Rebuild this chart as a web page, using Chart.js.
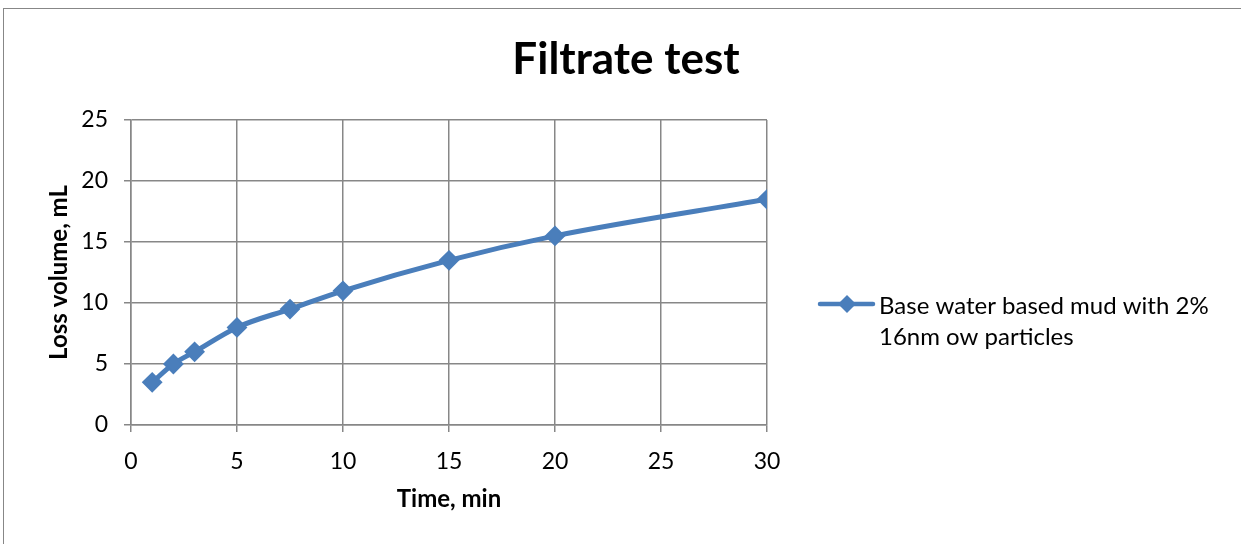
<!DOCTYPE html>
<html>
<head>
<meta charset="utf-8">
<script src="https://cdn.jsdelivr.net/npm/chart.js@4.4.1/dist/chart.umd.min.js"></script>
<style>
  html, body { margin: 0; padding: 0; background: #fff; }
  #wrap { position: relative; width: 1241px; height: 544px; overflow: hidden; }
  canvas { display: block; }
</style>
</head>
<body>
<div id="wrap"><canvas id="grafica" width="1241" height="544"></canvas></div>
<script>
// datos
const tiempos = [1, 2, 3, 5, 7.5, 10, 15, 20, 30];
const volumenes = [3.5, 5, 6, 8, 9.5, 11, 13.5, 15.5, 18.5];
const etiquetaSerie = ["Base water based mud with 2%", "16nm ow particles"];
const titulo = "Filtrate test";
const tituloX = "Time, min";
const tituloY = "Loss volume, mL";

const fuente = "Lato, 'Liberation Sans', sans-serif";
const azul = "#4a7ebb";
const gris = "#878787";

// marco, titulo y leyenda dibujados a mano
const extras = {
    id: "extras",
    afterDraw(chart) {
        const ctx = chart.ctx;
        ctx.save();

        // marco exterior
        ctx.strokeStyle = gris;
        ctx.lineWidth = 1;
        ctx.strokeRect(3.5, 8.5, 1300, 600);

        // titulo
        ctx.fillStyle = "#000";
        ctx.font = "bold 44px " + fuente;
        ctx.textAlign = "center";
        ctx.textBaseline = "middle";
        ctx.fillText(titulo, 626, 60);

        // leyenda
        const y = 304;
        ctx.strokeStyle = azul;
        ctx.lineWidth = 4.5;
        ctx.lineCap = "round";
        ctx.beginPath();
        ctx.moveTo(820, y);
        ctx.lineTo(873, y);
        ctx.stroke();
        ctx.fillStyle = azul;
        ctx.beginPath();
        ctx.moveTo(847 - 9, y);
        ctx.lineTo(847, y - 9);
        ctx.lineTo(847 + 9, y);
        ctx.lineTo(847, y + 9);
        ctx.closePath();
        ctx.fill();

        ctx.fillStyle = "#000";
        ctx.font = "24px " + fuente;
        ctx.textAlign = "left";
        etiquetaSerie.forEach((linea, i) => {
            ctx.fillText(linea, 879, 306 + i * 31);
        });
        ctx.restore();
    }
};

new Chart(document.getElementById("grafica"), {
    type: "line",
    data: {
        datasets: [{
            label: etiquetaSerie.join(" "),
            data: tiempos.map((t, i) => ({ x: t, y: volumenes[i] })),
            borderColor: azul,
            backgroundColor: azul,
            borderWidth: 5,
            cubicInterpolationMode: "monotone",
            pointStyle: "rectRot",
            pointRadius: 9,
            pointBorderWidth: 2,
            pointBorderColor: azul,
            pointBackgroundColor: azul
        }]
    },
    options: {
        responsive: false,
        animation: false,
        layout: { padding: { top: 120, right: 474, left: 0, bottom: 0 } },
        plugins: {
            legend: { display: false },
            title: { display: false },
            tooltip: { enabled: false }
        },
        scales: {
            x: {
                type: "linear",
                min: 0,
                max: 30,
                afterFit: s => { s.height = 119; },
                ticks: {
                    stepSize: 5,
                    color: "#000",
                    padding: 16,
                    font: { family: fuente, size: 23 }
                },
                grid: { color: gris, lineWidth: 1.5, tickLength: 7, tickColor: gris },
                border: { color: gris, width: 1.5 },
                title: {
                    display: true,
                    text: tituloX,
                    color: "#000",
                    font: { family: fuente, size: 24, weight: "bold" },
                    padding: { top: 0, bottom: 30 }
                }
            },
            y: {
                min: 0,
                max: 25,
                afterFit: s => { s.width = 131; },
                ticks: {
                    stepSize: 5,
                    color: "#000",
                    padding: 16,
                    font: { family: fuente, size: 23 }
                },
                grid: { color: gris, lineWidth: 1.5, tickLength: 7, tickColor: gris },
                border: { color: gris, width: 1.5 },
                title: {
                    display: true,
                    text: tituloY,
                    color: "#000",
                    font: { family: fuente, size: 24, weight: "bold" },
                    padding: { top: 45, bottom: 0 }
                }
            }
        }
    },
    plugins: [extras]
});
</script>
</body>
</html>
